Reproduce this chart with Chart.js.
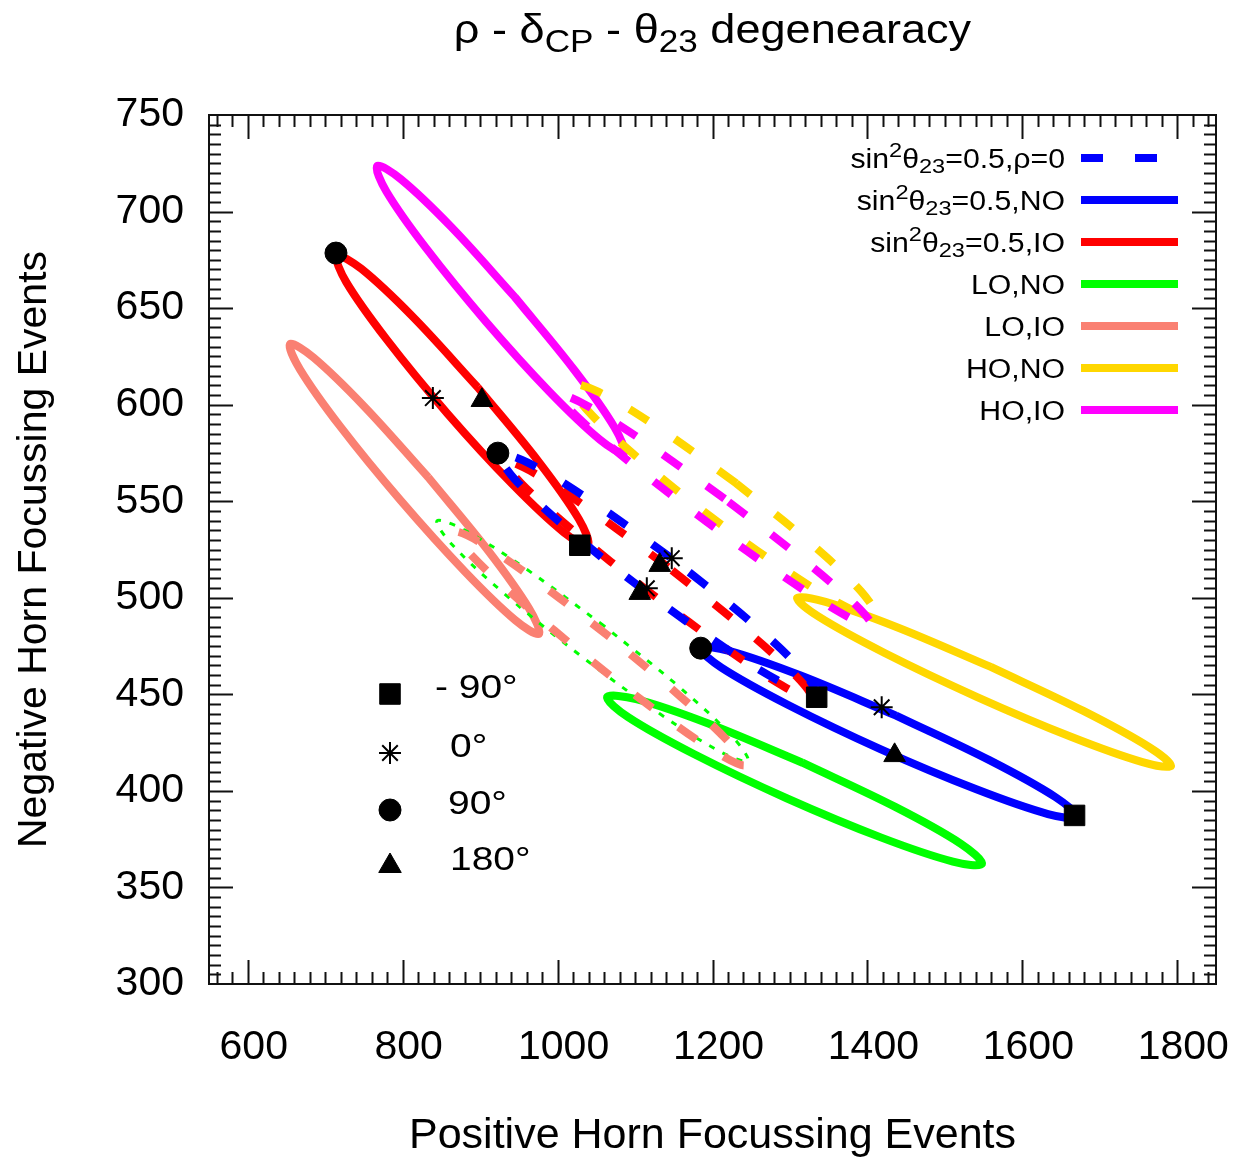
<!DOCTYPE html>
<html>
<head>
<meta charset="utf-8">
<script src="https://cdn.jsdelivr.net/npm/chart.js@4.4.1/dist/chart.umd.min.js"></script>
<style>
  html, body { margin: 0; padding: 0; background: #fff; }
</style>
</head>
<body>
<canvas id="c" width="1240" height="1160"></canvas>
<script>
const FONT = '"Liberation Sans", Arial, Helvetica, sans-serif';

// axes
const xRange = [550, 1850];
const yRange = [300, 750];
const xTicks = [600, 800, 1000, 1200, 1400, 1600, 1800];
const yTicks = [300, 350, 400, 450, 500, 550, 600, 650, 700, 750];
const xMinorStep = 20;
const yMinorStep = 5;

// contours as [x, y] pairs, going round each closed loop
const s05Rho0 = [[1145.4,521.0],[1041.5,550.6],[960.9,570.1],[925.7,573.9],[944.7,561.4],[1013.1,535.6],[1112.6,503.6],[1216.5,474.0],[1297.1,454.6],[1332.3,450.7],[1313.4,463.3],[1244.9,489.0]];
const s05IORho0 = [[1142.6,515.9],[1041.9,545.6],[964.8,565.7],[932.1,570.8],[952.7,559.4],[1020.7,534.6],[1118.0,503.1],[1218.7,473.3],[1295.8,453.2],[1328.5,448.1],[1307.9,459.5],[1239.9,484.3]];
const s05NO = [[1437.0,439.0],[1313.9,459.7],[1221.3,472.5],[1183.9,474.0],[1211.5,463.8],[1297.1,444.6],[1417.4,421.5],[1540.6,400.8],[1633.1,388.0],[1670.6,386.5],[1643.0,396.7],[1557.4,415.9]];
const s05IO = [[896.8,609.0],[813.1,645.5],[746.5,670.4],[715.1,677.0],[727.0,663.6],[779.3,633.8],[857.8,595.4],[941.4,558.9],[1008.0,533.9],[1039.4,527.3],[1027.4,540.8],[975.3,570.6]];
const loNO = [[1316.1,414.6],[1193.7,435.0],[1101.4,447.5],[1063.8,448.6],[1091.1,438.2],[1175.9,419.1],[1295.7,396.2],[1418.1,375.8],[1510.4,363.4],[1547.9,362.2],[1520.7,372.6],[1435.9,391.7]];
const loIO = [[833.0,562.4],[750.1,599.2],[684.9,624.4],[654.6,631.4],[667.4,618.3],[719.6,588.6],[797.6,550.3],[880.5,513.5],[945.7,488.3],[976.0,481.3],[963.3,494.4],[911.0,524.1]];
const hoNO = [[1559.3,464.2],[1437.4,484.9],[1345.9,497.9],[1309.1,499.9],[1337.1,490.2],[1422.2,471.4],[1541.7,448.6],[1663.6,427.9],[1755.1,414.9],[1791.9,412.9],[1763.9,422.6],[1678.8,441.4]];
const hoIO = [[944.9,655.7],[862.8,692.0],[797.6,716.8],[767.0,723.6],[779.0,710.4],[830.5,680.9],[907.7,642.9],[989.8,606.6],[1055.0,581.8],[1085.6,575.0],[1073.6,588.2],[1022.1,617.7]];
const loNORho0 = [[1060.1,485.4],[957.7,515.4],[878.7,535.3],[844.3,539.8],[863.7,527.6],[931.6,502.0],[1030.1,469.9],[1132.5,439.8],[1211.5,420.0],[1245.8,415.5],[1226.5,427.7],[1158.6,453.3]];
const loIORho0 = [[1066.9,479.8],[971.6,509.1],[898.7,529.0],[867.6,534.1],[886.6,523.0],[950.7,498.7],[1042.6,467.7],[1137.9,438.4],[1210.9,418.5],[1242.0,413.4],[1223.0,424.5],[1158.8,448.8]];
const hoNORho0 = [[1230.6,559.3],[1130.7,587.9],[1053.0,606.6],[1018.6,610.2],[1036.7,597.9],[1102.3,572.9],[1197.8,542.0],[1297.7,513.4],[1375.5,494.7],[1409.8,491.1],[1391.7,503.4],[1326.1,528.4]];
const hoIORho0 = [[1215.6,551.3],[1113.5,580.4],[1035.7,600.0],[1003.1,605.0],[1024.6,594.0],[1094.2,569.9],[1193.4,539.1],[1295.6,510.0],[1373.4,490.4],[1405.9,485.4],[1384.5,496.4],[1314.9,520.5]];

// delta_CP markers
const dcpM90 = [[1028.7,527.2],[1334.5,448.5],[1667.4,387.3]];
const dcp0 = [[839.0,603.4],[1147.4,520.5],[1115.2,504.9],[1418.4,443.3]];
const dcp90 = [[713.9,678.5],[922.9,574.9],[1184.8,473.9]];
const dcp180 = [[902.3,602.3],[1131.9,516.9],[1106.1,502.4],[1435.1,418.4]];

const BLUE = '#0000ff', RED = '#ff0000', GREEN = '#00ff00', SALMON = '#fa8072', GOLD = '#ffd700', MAGENTA = '#ff00ff';
const DASH = [22, 32];

const toXY = pts => pts.map(([x, y]) => ({x, y}));
const loop = pts => toXY(pts.concat([pts[0]]));

function curve(pts, color, dash, width, order) {
  return {
    data: loop(pts), showLine: true, pointRadius: 0, pointHoverRadius: 0,
    borderColor: color, borderWidth: width || 8, borderDash: dash || [],
    borderCapStyle: 'butt', borderJoinStyle: 'round', tension: 0.36, fill: false, order: order
  };
}
function marks(pts, style, radius, width) {
  return {
    data: toXY(pts), showLine: false, pointStyle: style, pointRadius: radius,
    pointHoverRadius: radius, backgroundColor: '#000', borderColor: '#000',
    pointBorderWidth: width || 1, order: 0
  };
}

// rich text: parts = [[text, shift]], shift 1 = superscript, -1 = subscript
function richText(ctx, parts, x, y, size, align, sx) {
  const sub = 0.78;
  let w = 0;
  parts.forEach(([t, s]) => {
    ctx.font = (s ? size * sub : size) + 'px ' + FONT;
    w += ctx.measureText(t).width;
  });
  ctx.save();
  ctx.translate(x, y);
  ctx.scale(sx || 1, 1);
  let cx = align === 'right' ? -w : align === 'center' ? -w / 2 : 0;
  ctx.fillStyle = '#000';
  ctx.textBaseline = 'alphabetic';
  ctx.textAlign = 'left';
  parts.forEach(([t, s]) => {
    ctx.font = (s ? size * sub : size) + 'px ' + FONT;
    const dy = s > 0 ? -0.38 * size : s < 0 ? 0.22 * size : 0;
    ctx.fillText(t, cx, dy);
    cx += ctx.measureText(t).width;
  });
  ctx.restore();
}

const legendItems = [
  {parts: [['sin', 0], ['2', 1], ['θ', 0], ['23', -1], ['=0.5,ρ=0', 0]], color: BLUE, dash: DASH},
  {parts: [['sin', 0], ['2', 1], ['θ', 0], ['23', -1], ['=0.5,NO', 0]], color: BLUE},
  {parts: [['sin', 0], ['2', 1], ['θ', 0], ['23', -1], ['=0.5,IO', 0]], color: RED},
  {parts: [['LO,NO', 0]], color: GREEN},
  {parts: [['LO,IO', 0]], color: SALMON},
  {parts: [['HO,NO', 0]], color: GOLD},
  {parts: [['HO,IO', 0]], color: MAGENTA}
];
const markerItems = [
  {label: '- 90°', style: 'rect', r: 14.5, tx: 435},
  {label: '0°', style: 'star', r: 11, tx: 450},
  {label: '90°', style: 'circle', r: 11, tx: 448},
  {label: '180°', style: 'triangle', r: 13, tx: 450}
];

const decor = {
  id: 'decor',
  afterDatasetsDraw(chart) {
    const {ctx, chartArea: a, scales: {x, y}} = chart;
    ctx.save();
    ctx.strokeStyle = '#111';
    ctx.lineWidth = 2;
    ctx.strokeRect(a.left, a.top, a.right - a.left, a.bottom - a.top);
    ctx.beginPath();
    for (let v = xRange[0] + 10; v < xRange[1]; v += xMinorStep) {
      const px = Math.round(x.getPixelForValue(v)) + 0.5;
      const len = xTicks.includes(v) ? 24 : 12;
      ctx.moveTo(px, a.bottom); ctx.lineTo(px, a.bottom - len);
      ctx.moveTo(px, a.top); ctx.lineTo(px, a.top + len);
    }
    for (let v = yRange[0] + yMinorStep; v < yRange[1]; v += yMinorStep) {
      const py = Math.round(y.getPixelForValue(v)) + 0.5;
      const len = yTicks.includes(v) ? 24 : 12;
      ctx.moveTo(a.left, py); ctx.lineTo(a.left + len, py);
      ctx.moveTo(a.right, py); ctx.lineTo(a.right - len, py);
    }
    ctx.stroke();

    // title
    richText(ctx, [['ρ - δ', 0], ['CP', -1], [' - θ', 0], ['23', -1], [' degenearacy', 0]],
      (a.left + a.right) / 2, 43, 41, 'center', 1.1);

    // series legend
    legendItems.forEach((it, i) => {
      const ly = 158 + i * 42;
      richText(ctx, it.parts, 1065, ly + 9.5, 27, 'right', 1.12);
      ctx.beginPath();
      ctx.strokeStyle = it.color;
      ctx.lineWidth = 8;
      ctx.lineCap = 'butt';
      ctx.setLineDash(it.dash || []);
      ctx.moveTo(1081, ly); ctx.lineTo(1178, ly);
      ctx.stroke();
      ctx.setLineDash([]);
    });

    // delta_CP legend
    markerItems.forEach((m, i) => {
      const my = [694, 753, 810, 866][i];
      ctx.fillStyle = '#000';
      ctx.strokeStyle = '#000';
      ctx.lineWidth = m.style === 'star' ? 2 : 1;
      Chart.helpers.drawPoint(ctx, {pointStyle: m.style, radius: m.r, rotation: 0, borderWidth: ctx.lineWidth}, 390, my);
      richText(ctx, [[m.label, 0]], m.tx, my + 3.5, 33, 'left', 1.18);
    });
    ctx.restore();
  }
};

Chart.defaults.font.family = FONT;
Chart.defaults.color = '#000';

new Chart(document.getElementById('c'), {
  type: 'scatter',
  data: {
    datasets: [
      marks(dcpM90, 'rect', 14.5),
      marks(dcp0, 'star', 11, 2),
      marks(dcp90, 'circle', 11),
      marks(dcp180, 'triangle', 12.5),
      curve(s05Rho0, BLUE, DASH, 8, 1),
      curve(s05IORho0, RED, DASH, 8, 1),
      curve(hoIORho0, MAGENTA, DASH, 8, 1),
      curve(hoNORho0, GOLD, DASH, 8, 1),
      curve(loIORho0, SALMON, DASH, 8, 1),
      curve(loNORho0, GREEN, [6, 9], 3, 1),
      curve(s05NO, BLUE, null, 8, 2),
      curve(s05IO, RED, null, 8, 2),
      curve(loNO, GREEN, null, 8, 2),
      curve(loIO, SALMON, null, 8, 2),
      curve(hoNO, GOLD, null, 8, 2),
      curve(hoIO, MAGENTA, null, 8, 2)
    ]
  },
  options: {
    responsive: false,
    animation: false,
    events: [],
    layout: { padding: { left: 0, right: 24, top: 115, bottom: 0 } },
    plugins: { legend: { display: false }, tooltip: { enabled: false }, title: { display: false } },
    scales: {
      x: {
        type: 'linear', min: xRange[0], max: xRange[1],
        afterBuildTicks: s => { s.ticks = xTicks.map(v => ({value: v})); },
        afterFit: s => { s.height = 176; s.paddingLeft = 0; s.paddingRight = 0; },
        grid: { display: false, drawTicks: false },
        border: { display: false },
        ticks: { autoSkip: false, maxRotation: 0, padding: 39, labelOffset: 6,
                 font: { size: 41 }, callback: v => String(v) },
        title: { display: true, text: 'Positive Horn Focussing Events',
                 font: { size: 43, lineHeight: 1.1 }, padding: { top: 0, bottom: 0 } }
      },
      y: {
        type: 'linear', min: yRange[0], max: yRange[1],
        afterBuildTicks: s => { s.ticks = yTicks.map(v => ({value: v})); },
        afterFit: s => { s.width = 209; s.paddingTop = 0; s.paddingBottom = 0; },
        grid: { display: false, drawTicks: false },
        border: { display: false },
        ticks: { autoSkip: false, padding: 25, font: { size: 41 }, callback: v => String(v) },
        title: { display: true, text: 'Negative Horn Focussing Events',
                 font: { size: 41, lineHeight: 1.2 }, padding: { top: 10, bottom: 0 } }
      }
    }
  },
  plugins: [decor]
});
</script>
</body>
</html>
